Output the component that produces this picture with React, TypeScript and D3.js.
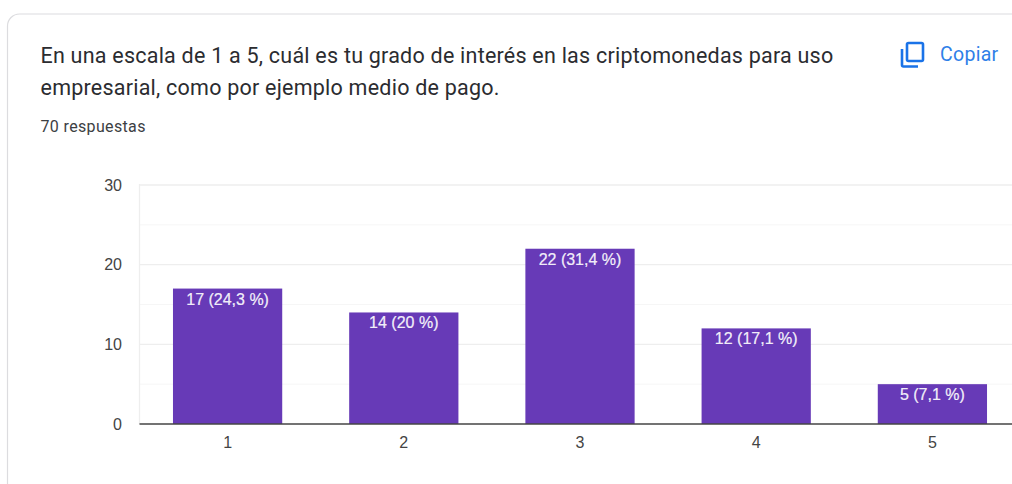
import * as d3 from "d3";

const categories = ["1", "2", "3", "4", "5"];
const counts = [17, 14, 22, 12, 5];
const barLabels = ["17 (24,3 %)", "14 (20 %)", "22 (31,4 %)", "12 (17,1 %)", "5 (7,1 %)"];
const majorTicks = [0, 10, 20, 30];
const minorTicks = [5, 15, 25];
const titleLines = [
  "En una escala de 1 a 5, cuál es tu grado de interés en las criptomonedas para uso",
  "empresarial, como por ejemplo medio de pago.",
];
const subtitle = "70 respuestas";
const copyLabel = "Copiar";

const width = 1012;
const height = 484;
const plot = { l: 139.5, r: 1020.5, t: 184, b: 424 };
const labelFont = "Liberation Sans, Arial";

export default function App() {
  const x = d3.scaleBand().domain(categories).range([plot.l, plot.r]).paddingInner(0.38).paddingOuter(0.19);
  const y = d3.scaleLinear().domain([0, 30]).range([plot.b, plot.t + 1]);

  return (
    <svg
      width={width}
      height={height}
      viewBox={`0 0 ${width} ${height}`}
      style={{ position: "absolute", left: 0, top: 0, fontFamily: "Roboto, Arial, sans-serif" }}
    >
      <rect width={width} height={height} fill="#fff" />
      {/* card edge */}
      <path
        d={`M7.5 ${height} V26 a12 12 0 0 1 12 -12 H${width}`}
        fill="none"
        stroke="#dcdcdf"
        strokeWidth={1.2}
      />

      {titleLines.map((t, i) => (
        <text key={t} x={40.5} y={63 + i * 32} fontSize={21.5} letterSpacing={0.23} fill="#2b2c30">
          {t}
        </text>
      ))}
      <text x={40.5} y={132} fontSize={16} letterSpacing={0.35} fill="#3c4043">
        {subtitle}
      </text>

      {/* copy icon */}
      <g fill="none" stroke="#1a73e8" strokeWidth={2.6} strokeLinejoin="round">
        <rect x={907} y={43} width={16} height={18} rx={1.5} />
        <path d="M902 49 V65 a1.5 1.5 0 0 0 1.5 1.5 H918" />
      </g>
      <text x={940} y={61} fontSize={19.5} letterSpacing={0.3} fill="#2f7fe8">
        {copyLabel}
      </text>

      {minorTicks.map((t) => (
        <line key={t} x1={plot.l} x2={plot.r} y1={y(t)} y2={y(t)} stroke="#f6f6f6" />
      ))}
      {majorTicks.map((t) => (
        <g key={t}>
          {t > 0 && <line x1={plot.l} x2={plot.r} y1={y(t)} y2={y(t)} stroke="#eeeeee" strokeWidth={1.3} />}
          <text x={122} y={y(t) + 5.5} textAnchor="end" fontSize={16} fontFamily={labelFont} fill="#444">
            {t}
          </text>
        </g>
      ))}
      <line x1={plot.l} x2={plot.l} y1={plot.t} y2={plot.b} stroke="#eeeeee" strokeWidth={1.3} />

      {categories.map((c, i) => {
        const bx = x(c) ?? 0;
        return (
          <g key={c}>
            <rect x={bx} y={y(counts[i])} width={x.bandwidth()} height={plot.b - y(counts[i])} fill="#673ab7" />
            <text
              x={bx + x.bandwidth() / 2}
              y={y(counts[i]) + 16}
              textAnchor="middle"
              fontSize={16}
              fontFamily={labelFont}
              fill="#fff"
              stroke="#fff"
              strokeWidth={0.2}
              fillOpacity={0.92}
            >
              {barLabels[i]}
            </text>
            <text x={bx + x.bandwidth() / 2} y={447.5} textAnchor="middle" fontSize={16} fontFamily={labelFont} fill="#444">
              {c}
            </text>
          </g>
        );
      })}
      <line x1={plot.l} x2={plot.r} y1={plot.b} y2={plot.b} stroke="#444" strokeWidth={1.3} />
    </svg>
  );
}
